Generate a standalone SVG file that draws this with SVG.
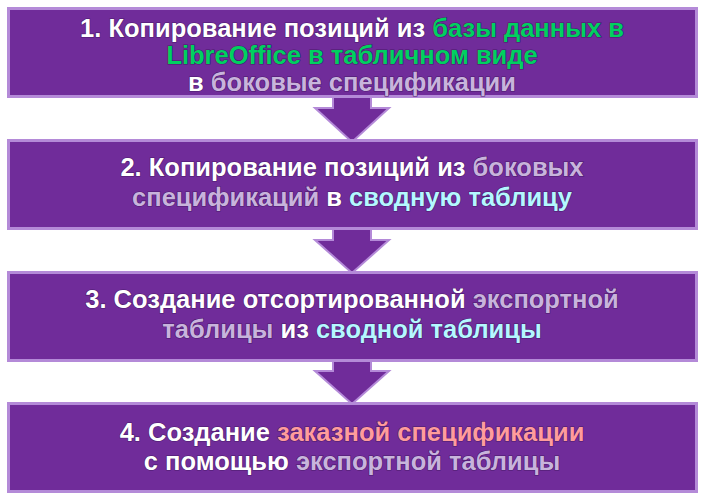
<svg xmlns="http://www.w3.org/2000/svg" width="706" height="500" viewBox="0 0 706 500">
<style>
.box{fill:#702c9a;stroke:#b48ad8;stroke-width:3}
.arr{fill:#702c9a;stroke:#b48ad8;stroke-width:2}
text{font-family:"Liberation Sans",Arial,sans-serif;font-weight:bold;font-size:25.5px;fill:#fff;text-anchor:middle;stroke:#4a1a6a;stroke-width:1.2;paint-order:stroke}
.g{fill:#00d060}.p{fill:#c8b4dc}.c{fill:#b4f8ff}.r{fill:#ff9c9c}
</style>
<rect width="706" height="500" fill="#fff"/>
<g id="connectors">
<path class="arr" d="M333,97 V108 H315 L352,142 L389,108 H371 V97"/>
<path class="arr" d="M333,228 V240 H315 L352,273 L389,240 H371 V228"/>
<path class="arr" d="M333,360 V371 H315 L352,404 L389,371 H371 V360"/>
</g>
<g id="n1"><rect class="box" x="8.5" y="8.5" width="688" height="88"/>
<text x="352" y="37">1. Копирование позиций из <tspan class="g">базы данных в</tspan></text>
<text x="352" y="64"><tspan class="g">LibreOffice в табличном виде</tspan></text>
<text x="352" y="91">в <tspan class="p">боковые спецификации</tspan></text></g>
<g id="n2"><rect class="box" x="8.5" y="140.5" width="688" height="88"/>
<text x="352" y="176">2. Копирование позиций из <tspan class="p">боковых</tspan></text>
<text x="352" y="206"><tspan class="p">спецификаций</tspan> в <tspan class="c">сводную таблицу</tspan></text></g>
<g id="n3"><rect class="box" x="8.5" y="272.5" width="688" height="88"/>
<text x="352" y="308">3. Создание отсортированной <tspan class="p">экспортной</tspan></text>
<text x="352" y="338"><tspan class="p">таблицы</tspan> из <tspan class="c">сводной таблицы</tspan></text></g>
<g id="n4"><rect class="box" x="8.5" y="403.5" width="688" height="88"/>
<text x="352" y="441">4. Создание <tspan class="r">заказной спецификации</tspan></text>
<text x="352" y="470">с помощью <tspan class="p">экспортной таблицы</tspan></text></g>
</svg>
